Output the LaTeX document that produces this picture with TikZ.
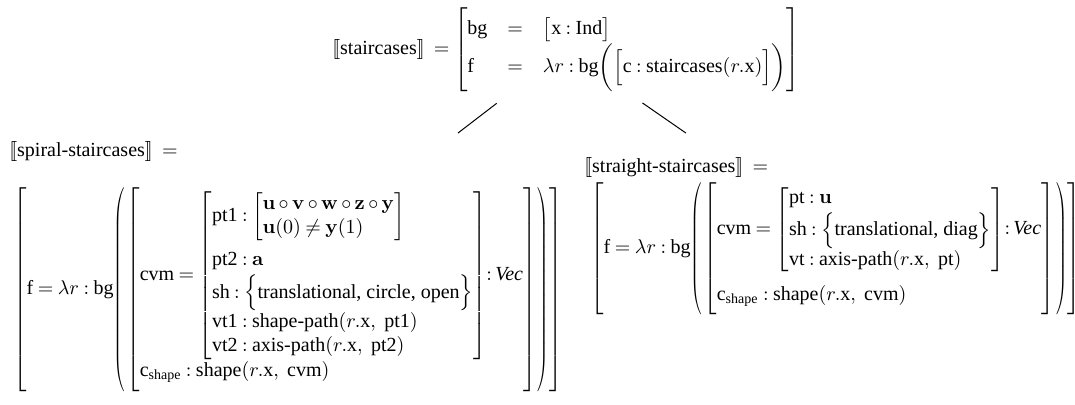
\documentclass[tikz,border=0pt]{standalone}
\usepackage{amsmath, amssymb}
\usepackage{graphicx}
\usepackage[no-math]{fontspec}
\setmainfont{Liberation Serif}
\usepackage{tikz}
\usetikzlibrary{positioning}

\newcommand{\den}[1]{[\![\text{#1}]\!]}
\newcommand{\tx}[1]{\text{#1}}
% slim round brackets around a tall block
\newcommand{\tpar}[1]{\mathopen{\scalebox{.65}[1]{$\left(\vphantom{#1}\right.$}}#1\mathclose{\scalebox{.65}[1]{$\left.\vphantom{#1}\right)$}}}
% set braces with the usual delimiter rules
\newcommand{\setof}[1]{{\delimitershortfall=5pt\Bigl\{}\tx{#1}{\delimitershortfall=5pt\Bigr\}}}

\tikzset{
  avm/.style={inner sep=3pt, align=left, execute at begin node={\thickmuskip=4mu\medmuskip=3mu}},
  avmtall/.style={avm, execute at begin node={\delimitershortfall=1pt}},
  branch/.style={draw=black, line width=0.5pt}
}

\begin{document}
\begin{tikzpicture}[x=0.5pt, y=-0.5pt]
  \useasboundingbox (0,0) rectangle (1075,405);
  % root
  \node (top) [avm, anchor=west] at (326,50) {$\den{staircases}\ = \left[\begin{array}{@{}lcl@{}}
      \rule{0pt}{13pt}\tx{bg} & = & \bigl[\tx{x} : \tx{Ind}\bigr]\\[1pt]
      \tx{f} & = & \lambda r : \tx{bg}\biggl(\Bigl[\tx{c} : \tx{staircases}(r.\tx{x})\Bigr]\biggr)
    \end{array}\right]$};
  % left child
  \node (spiral) [avmtall, anchor=north west] at (3,133) {\begin{tabular}{@{}l@{}}
    $\den{spiral-staircases}\ =$\\[12pt]
    \hspace{2pt}$\left[\tx{f} = \lambda r : \tx{bg}\tpar{\left[\begin{array}{@{}l@{}}
      \tx{cvm} = \left[\begin{array}{@{}l@{}}
        \tx{pt1} : \left[\begin{array}{@{}l@{}}
          \mathbf{u}\circ\mathbf{v}\circ\mathbf{w}\circ\mathbf{z}\circ\mathbf{y}\\[0pt]
          \mathbf{u}(0)\neq\mathbf{y}(1)
        \end{array}\right]\\
        \rule{0pt}{12.5pt}\tx{pt2} : \mathbf{a}\\[1pt]
        \tx{sh} : \setof{translational, circle, open}\\[1.5pt]
        \tx{vt1} : \tx{shape-path}(r.\tx{x},\ \tx{pt1})\\[0pt]
        \tx{vt2} : \tx{axis-path}(r.\tx{x},\ \tx{pt2})
      \end{array}\right]\!{:}\,\textit{Vec}\\
      \rule[-5pt]{0pt}{13pt}\tx{c}_{\tx{shape}} : \tx{shape}(r.\tx{x},\ \tx{cvm})
    \end{array}\right]}\right]$
  \end{tabular}};
  % right child
  \node (straight) [avmtall, anchor=north west] at (578,149) {\begin{tabular}{@{}l@{}}
    $\den{straight-staircases}\ =$\\[1.5pt]
    \hspace{3pt}$\left[\tx{f} = \lambda r : \tx{bg}\tpar{\left[\begin{array}{@{}l@{}}
      \tx{cvm} = \left[\begin{array}{@{}l@{}}
        \tx{pt} : \mathbf{u}\\[1pt]
        \tx{sh} : \setof{translational, diag}\\[1pt]
        \tx{vt} : \tx{axis-path}(r.\tx{x},\ \tx{pt})
      \end{array}\right]\!{:}\,\textit{Vec}\\
      \rule[-5pt]{0pt}{19pt}\tx{c}_{\tx{shape}} : \tx{shape}(r.\tx{x},\ \tx{cvm})
    \end{array}\right]}\right]$
  \end{tabular}};
  % branches
  \draw[branch, shorten <=4pt] (top) -- (spiral);
  \draw[branch, shorten <=4pt, shorten >=14pt] (top) -- (straight);
\end{tikzpicture}
\end{document}
